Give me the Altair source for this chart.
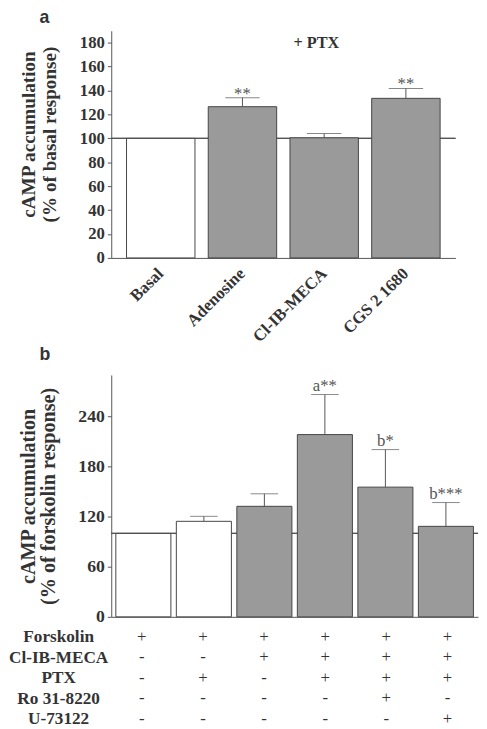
import altair as alt
import pandas as pd

# ---------------- data ----------------
a_categories = ["Basal", "Adenosine", "Cl-IB-MECA", "CGS 2 1680"]
a_groups = ["control", "agonist", "agonist", "agonist"]
a_means = [100, 126.5, 100.5, 133.5]
a_sem = [0, 7.5, 3.5, 8.3]
a_sig = ["", "**", "", "**"]
a_ticks = [0, 20, 40, 60, 80, 100, 120, 140, 160, 180]

b_conditions = ["F", "F+PTX", "F+Cl", "F+Cl+PTX", "F+Cl+PTX+Ro", "F+Cl+PTX+U"]
b_groups = ["control", "control", "agonist", "agonist", "agonist", "agonist"]
b_means = [100, 114.5, 132.5, 218.5, 155.5, 108.5]
b_sem = [0, 6, 15, 48, 45, 28.5]
b_sig = ["", "", "", "a**", "b*", "b***"]
b_ticks = [0, 60, 120, 180, 240]

table_rows = ["Forskolin", "Cl-IB-MECA", "PTX", "Ro 31-8220", "U-73122"]
table_symbols = [
    ["+", "+", "+", "+", "+", "+"],
    ["-", "-", "+", "+", "+", "+"],
    ["-", "+", "-", "+", "+", "+"],
    ["-", "-", "-", "-", "+", "-"],
    ["-", "-", "-", "-", "-", "+"],
]

SERIF = "Liberation Serif"
SANS = "Liberation Sans"
TXT = "#333333"
LINE = "#555555"
GRAY = "#9a9a9a"

dfa = pd.DataFrame({"cat": a_categories, "group": a_groups, "mean": a_means,
                    "sem": a_sem, "sig": a_sig})
dfa["upper"] = dfa["mean"] + dfa["sem"]

dfb = pd.DataFrame({"cat": b_conditions, "group": b_groups, "mean": b_means,
                    "sem": b_sem, "sig": b_sig})
dfb["upper"] = dfb["mean"] + dfb["sem"]

rows = []
for r, syms in zip(table_rows, table_symbols):
    for c, s in zip(b_conditions, syms):
        rows.append({"row": r, "cat": c, "sym": s})
dft = pd.DataFrame(rows)

fill_scale = alt.Scale(domain=["control", "agonist"], range=["white", GRAY])

# ---------------- panel a ----------------
a_xscale = alt.Scale(domain=a_categories, paddingInner=0.1625, paddingOuter=0.187)
a_yscale = alt.Scale(domain=[0, 190], nice=False)
a_yaxis = alt.Axis(values=a_ticks, tickCount=len(a_ticks), grid=False, tickSize=4,
                   labelOverlap=False,
                   labelFont=SERIF, labelFontWeight="bold", labelFontSize=17,
                   labelPadding=3,
                   title=["cAMP accumulation", "(% of basal response)"],
                   titleFont=SERIF, titleFontWeight="bold", titleFontSize=19.5,
                   titleLineHeight=22, titlePadding=20, titleY=105)
xa = alt.X("cat:N", sort=a_categories, scale=a_xscale,
           axis=alt.Axis(title=None, ticks=False, labelAngle=-45, labelAlign="right",
                         labelBaseline="middle", labelPadding=13,
                         labelFont=SERIF, labelFontWeight="bold", labelFontSize=17))

base_a = alt.Chart(dfa)
ref_a = base_a.mark_rule(color=LINE, strokeWidth=1).encode(
    y=alt.YDatum(100, type="quantitative", scale=a_yscale, axis=a_yaxis))
bars_a = base_a.mark_bar(stroke="#444444", strokeWidth=1).encode(
    x=xa, y=alt.Y("mean:Q", scale=a_yscale, axis=a_yaxis),
    fill=alt.Fill("group:N", scale=fill_scale, legend=None))
err_a = base_a.transform_filter("datum.sem > 0").mark_rule(color=LINE).encode(
    x=alt.X("cat:N", sort=a_categories), y="mean:Q", y2="upper:Q")
cap_a = base_a.transform_filter("datum.sem > 0").mark_tick(
    orient="horizontal", size=35, thickness=1, color=LINE).encode(
    x=alt.X("cat:N", sort=a_categories), y="upper:Q")
sig_a = base_a.mark_text(font=SERIF, fontSize=17, color=LINE, baseline="alphabetic",
                         dy=1).encode(
    x=alt.X("cat:N", sort=a_categories), y="upper:Q", text="sig:N")
ptx_a = alt.Chart(pd.DataFrame({"cat": ["Cl-IB-MECA"], "y": [180], "t": ["+ PTX"]})).mark_text(
    font=SERIF, fontSize=16.5, fontWeight="bold", color=TXT, baseline="middle", dx=-8).encode(
    x=alt.X("cat:N", sort=a_categories), y="y:Q", text="t:N")

panel_a = alt.layer(ref_a, bars_a, err_a, cap_a, sig_a, ptx_a).properties(
    width=350, height=231,
    title=alt.TitleParams("a", anchor="start", frame="group", font=SANS, fontSize=18,
                          fontWeight="bold", color=TXT, dx=-73, offset=4))

# ---------------- panel b ----------------
b_xscale = alt.Scale(domain=b_conditions, paddingInner=0.09, paddingOuter=0.0756)
b_yscale = alt.Scale(domain=[0, 290], nice=False)
b_yaxis = alt.Axis(values=b_ticks, tickCount=len(b_ticks), grid=False, tickSize=4,
                   labelOverlap=False,
                   labelFont=SERIF, labelFontWeight="bold", labelFontSize=18,
                   labelPadding=3,
                   title=["cAMP accumulation", "(% of forskolin response)"],
                   titleFont=SERIF, titleFontWeight="bold", titleFontSize=20.5,
                   titleLineHeight=20, titlePadding=20)
xb = alt.X("cat:N", sort=b_conditions, scale=b_xscale,
           axis=alt.Axis(title=None, ticks=False, labels=False))

base_b = alt.Chart(dfb)
ref_b = base_b.mark_rule(color=LINE, strokeWidth=1).encode(
    y=alt.YDatum(100, type="quantitative", scale=b_yscale, axis=b_yaxis))
bars_b = base_b.mark_bar(stroke="#444444", strokeWidth=1).encode(
    x=xb, y=alt.Y("mean:Q", scale=b_yscale, axis=b_yaxis),
    fill=alt.Fill("group:N", scale=fill_scale, legend=None))
err_b = base_b.transform_filter("datum.sem > 0").mark_rule(color=LINE).encode(
    x=alt.X("cat:N", sort=b_conditions), y="mean:Q", y2="upper:Q")
cap_b = base_b.transform_filter("datum.sem > 0").mark_tick(
    orient="horizontal", size=28, thickness=1, color=LINE).encode(
    x=alt.X("cat:N", sort=b_conditions), y="upper:Q")
sig_b = base_b.mark_text(font=SERIF, fontSize=17, color=LINE, baseline="alphabetic",
                         dy=-4).encode(
    x=alt.X("cat:N", sort=b_conditions), y="upper:Q", text="sig:N")

panel_b = alt.layer(ref_b, bars_b, err_b, cap_b, sig_b).properties(
    width=373, height=246,
    title=alt.TitleParams("b", anchor="start", frame="group", font=SANS, fontSize=18,
                          fontWeight="bold", color=TXT, dx=-73, offset=11))

# ---------------- condition table ----------------
table = alt.Chart(dft).mark_text(font=SERIF, fontSize=17, color=TXT, baseline="middle").encode(
    x=alt.X("cat:N", sort=b_conditions, scale=b_xscale, axis=None),
    y=alt.Y("row:N", sort=table_rows,
            scale=alt.Scale(domain=table_rows, paddingInner=0, paddingOuter=0),
            axis=alt.Axis(title=None, ticks=False, domain=False, labelAlign="center",
                          labelPadding=54, labelFont=SERIF, labelFontWeight="bold",
                          labelFontSize=17.5, labelColor=TXT)),
    text="sym:N",
).properties(width=373, height=104)

chart = alt.vconcat(panel_a, panel_b, table, spacing=1).properties(
    padding={"left": 0, "top": -5, "right": 0, "bottom": 0}
).configure_view(stroke=None).configure_axis(
    domainColor=LINE, tickColor=LINE, labelColor=TXT, titleColor=TXT
)

chart.save("out.html", embed_options={"renderer": "svg", "actions": False})
